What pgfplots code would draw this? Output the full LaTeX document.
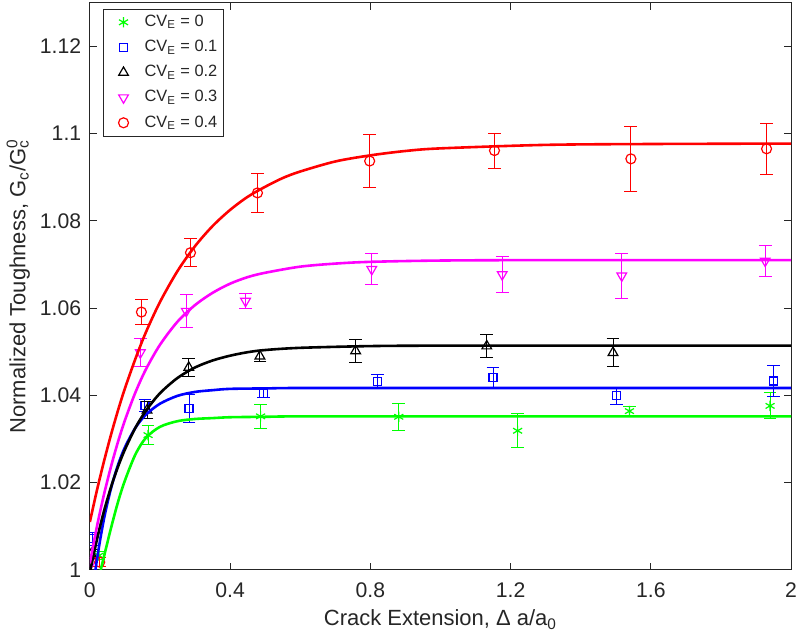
\documentclass[border=0pt]{standalone}
\usepackage{fontspec}
\setmainfont{Liberation Sans}
\usepackage{pgfplots}
\pgfplotsset{compat=1.18}

\definecolor{axgray}{rgb}{0.15,0.15,0.15}
\definecolor{mgreen}{rgb}{0,1,0}
\definecolor{mblue}{rgb}{0,0,1}
\definecolor{mmag}{rgb}{1,0,1}
\definecolor{mred}{rgb}{1,0,0}

% measured points: x, y, error
\pgfplotstableread{
x y e
0.026 1.0033 0.0010
0.166 1.0309 0.0021
0.487 1.0352 0.0028
0.881 1.0351 0.0031
1.220 1.0319 0.0039
1.539 1.0364 0.0011
1.940 1.0376 0.0030
}\cvzero
\pgfplotstableread{
x y e
0.008 1.0072 0.0015
0.157 1.0376 0.0014
0.283 1.0370 0.0032
0.495 1.0405 0.0010
0.820 1.0432 0.0016
1.150 1.0441 0.0024
1.502 1.0399 0.0020
1.950 1.0433 0.0035
}\cvone
\pgfplotstableread{
x y e
0.004 1.0037 0.0010
0.163 1.0366 0.0020
0.282 1.0464 0.0021
0.485 1.0490 0.0012
0.758 1.0502 0.0026
1.132 1.0513 0.0026
1.492 1.0498 0.0032
}\cvtwo
\pgfplotstableread{
x y e
0.005 1.0018 0.0010
0.144 1.0498 0.0032
0.275 1.0593 0.0038
0.444 1.0616 0.0018
0.804 1.0689 0.0035
1.176 1.0677 0.0042
1.517 1.0674 0.0051
1.926 1.0708 0.0035
}\cvthree
\pgfplotstableread{
x y e
0.028 1.0018 0.0010
0.147 1.0591 0.0028
0.287 1.0727 0.0032
0.478 1.0864 0.0045
0.798 1.0937 0.0060
1.154 1.0961 0.0040
1.543 1.0942 0.0074
1.930 1.0965 0.0059
}\cvfour

\pgfplotsset{
  mleg/.style={legend image code/.code={
    \path (0pt,0pt) (17pt,0pt);
    \draw[mark repeat=2,mark phase=2,##1] plot coordinates {(0pt,0pt)(8.8pt,0pt)(17pt,0pt)};}},
}

\begin{document}
\begin{tikzpicture}
\begin{axis}[
  width=351pt, height=284pt, scale only axis,
  xmin=0, xmax=2, ymin=1, ymax=1.13,
  xtick={0,0.4,0.8,1.2,1.6,2},
  ytick={1,1.02,1.04,1.06,1.08,1.1,1.12},
  tick align=inside, tick pos=both,
  major tick length=3.5pt,
  axis line style={axgray, line width=0.5pt},
  tick style={axgray, line width=0.5pt},
  /pgf/number format/assume math mode=true,
  tick label style={font=\fontsize{10.6}{12}\selectfont, text=axgray, inner sep=1.5pt},
  xticklabel style={yshift=-4.5pt},
  yticklabel style={xshift=-2.65pt},
  label style={font=\fontsize{11}{13}\selectfont, text=axgray},
  xlabel={Crack Extension, Δ a/a\textsubscript{0}},
  ylabel={Normalized Toughness, G\textsubscript{c}/G\rlap{\textsubscript{c}}\textsuperscript{0}},
  xlabel shift=1.2pt, ylabel shift=0pt,
  clip marker paths=true,
  legend cell align=left,
  legend style={at={(0,1)}, anchor=north west, xshift=6.5pt, yshift=-3pt,
    font=\fontsize{8.2}{9.5}\selectfont, text=axgray, draw=axgray,
    line width=0.5pt, row sep=1.35pt, inner sep=1pt, nodes={inner sep=2pt}},
  error bars/y dir=both, error bars/y explicit,
  error bars/error bar style={line width=0.5pt},
  error bars/error mark options={rotate=90, mark size=3.2pt, line width=0.5pt},
  after end axis/.code={\path (rel axis cs:0,1) ++(0pt,1.3pt);},
]
\addplot[only marks, mleg, color=mgreen, mark=asterisk, mark size=2.6pt, line width=0.6pt]
  table[x=x, y=y, y error=e] {\cvzero};
\addlegendentry{CV\textsubscript{E} = 0}
\addplot[only marks, mleg, color=mblue, mark=square, mark size=2pt, line width=0.6pt]
  table[x=x, y=y, y error=e] {\cvone};
\addlegendentry{CV\textsubscript{E} = 0.1}
\addplot[only marks, mleg, color=black, mark=triangle, mark size=2.8pt, line width=0.6pt]
  table[x=x, y=y, y error=e] {\cvtwo};
\addlegendentry{CV\textsubscript{E} = 0.2}
\addplot[only marks, mleg, color=mmag, mark=triangle, mark options={rotate=180}, mark size=2.8pt, line width=0.6pt]
  table[x=x, y=y, y error=e] {\cvthree};
\addlegendentry{CV\textsubscript{E} = 0.3}
\addplot[only marks, mleg, color=mred, mark=o, mark size=2.5pt, line width=0.6pt]
  table[x=x, y=y, y error=e] {\cvfour};
\addlegendentry{CV\textsubscript{E} = 0.4}

% fitted curves
\addplot[mgreen, line width=1.3pt, smooth, no marks, forget plot] coordinates {
(0.02,0.9963) (0.031,1.0) (0.04,1.003) (0.06,1.0095) (0.08,1.0155) (0.1,1.0205)
(0.13,1.0265) (0.16,1.0303) (0.2,1.0328) (0.25,1.0341) (0.3,1.0346) (0.35,1.0348)
(0.4,1.0350) (0.5,1.0351) (0.6,1.0352) (1.0,1.0352) (1.5,1.0352) (2.0,1.0352)};
\addplot[mblue, line width=1.3pt, smooth, no marks, forget plot] coordinates {
(0,0.9903) (0.02,1.0023) (0.04,1.0116) (0.06,1.0186) (0.08,1.0240) (0.1,1.0281)
(0.13,1.0326) (0.16,1.0356) (0.2,1.0381) (0.25,1.0399) (0.3,1.0408) (0.35,1.0412)
(0.4,1.0415) (0.5,1.0416) (0.6,1.0417) (1.0,1.0417) (1.5,1.0417) (2.0,1.0417)};
\addplot[black, line width=1.3pt, smooth, no marks, forget plot] coordinates {
(0,0.9994) (0.02,1.0069) (0.04,1.0134) (0.06,1.0189) (0.08,1.0236) (0.1,1.0276)
(0.13,1.0326) (0.16,1.0365) (0.2,1.0405) (0.25,1.0440) (0.3,1.0464) (0.35,1.0480)
(0.4,1.0491) (0.45,1.0499) (0.5,1.0504) (0.6,1.0509) (0.8,1.0513) (1.0,1.0514)
(1.5,1.0514) (2.0,1.0514)};
\addplot[mmag, line width=1.3pt, smooth, no marks, forget plot] coordinates {
(0,1.0016) (0.02,1.0099) (0.04,1.0172) (0.06,1.0236) (0.08,1.0293) (0.1,1.0343)
(0.13,1.0407) (0.16,1.0460) (0.2,1.0516) (0.25,1.0569) (0.3,1.0607) (0.35,1.0635)
(0.4,1.0656) (0.45,1.0671) (0.5,1.0681) (0.6,1.0695) (0.7,1.0702) (0.8,1.0706)
(1.0,1.0709) (1.3,1.0710) (2.0,1.0710)};
\addplot[mred, line width=1.3pt, smooth, no marks, forget plot] coordinates {
(0,1.0110) (0.02,1.0182) (0.04,1.0248) (0.06,1.0309) (0.08,1.0365) (0.1,1.0416)
(0.13,1.0484) (0.16,1.0545) (0.2,1.0614) (0.25,1.0685) (0.3,1.0742) (0.35,1.0788)
(0.4,1.0825) (0.45,1.0855) (0.5,1.0878) (0.55,1.0898) (0.6,1.0913) (0.7,1.0936)
(0.8,1.0950) (0.9,1.0960) (1.0,1.0966) (1.3,1.0974) (1.6,1.0976) (2.0,1.0977)};
\end{axis}
\end{tikzpicture}
\end{document}
